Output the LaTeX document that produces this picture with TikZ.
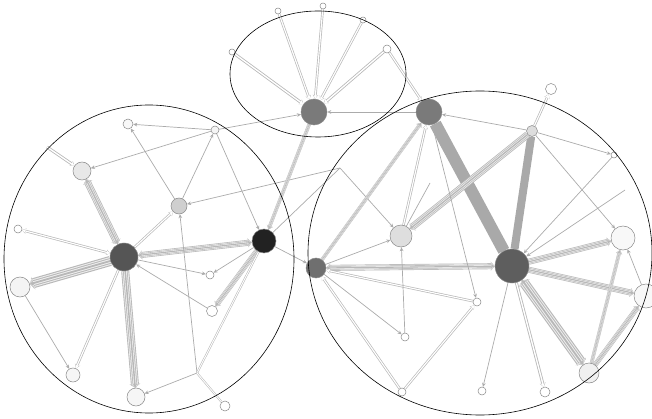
\documentclass[tikz,border=0pt]{standalone}
\usetikzlibrary{arrows.meta}
\definecolor{edgec}{HTML}{ABABAB}
\definecolor{bundc}{HTML}{B8B8B8}
\definecolor{stripc}{HTML}{EEEEEE}
\definecolor{solidc}{HTML}{A9A9A9}
\definecolor{nodeb}{HTML}{888888}
\pgfdeclarelayer{bg}\pgfsetlayers{bg,main}
\begin{document}
\begin{tikzpicture}[x=1pt,y=-1pt,
  >={Stealth[length=4pt,width=3pt 1]},
  nd/.style={circle,draw=nodeb,line width=0.5pt,inner sep=0pt,minimum size=#1},
  e/.style={draw=edgec,line width=0.7pt},
  dbl/.style={draw=bundc,line width=#1,
    postaction={draw=white,line width=0.45*#1}},
  bund/.style={draw=bundc,line width=#1,
    postaction={draw=stripc,line width=0.78*#1},
    postaction={draw=bundc,line width=0.58*#1},
    postaction={draw=stripc,line width=0.38*#1},
    postaction={draw=bundc,line width=0.18*#1}},
  solid bund/.style={draw=solidc,line width=#1},
  grp/.style={draw=black,line width=0.6pt}]
\useasboundingbox (0,0) rectangle (652,419);
% nodes
\node[nd=28pt,fill={rgb,255:red,85;green,85;blue,85}] (A) at (124,257) {};
\node[nd=18pt,fill={rgb,255:red,232;green,232;blue,232}] (B) at (82,171) {};
\node[nd=10pt,fill={rgb,255:red,248;green,248;blue,248}] (C) at (128,124) {};
\node[nd=8pt,fill={rgb,255:red,244;green,244;blue,244}] (D) at (215,130) {};
\node[nd=16pt,fill={rgb,255:red,207;green,207;blue,207}] (E) at (179,206) {};
\node[nd=24pt,fill={rgb,255:red,34;green,34;blue,34}] (F) at (264,241) {};
\node[nd=8pt,fill=white] (G) at (18,229) {};
\node[nd=20pt,fill={rgb,255:red,244;green,244;blue,244}] (H) at (20,287) {};
\node[nd=8pt,fill=white] (I) at (210,275) {};
\node[nd=11pt,fill=white] (J) at (212,311) {};
\node[nd=14pt,fill={rgb,255:red,246;green,246;blue,246}] (K) at (73,375) {};
\node[nd=18pt,fill={rgb,255:red,246;green,246;blue,246}] (L) at (136,397) {};
\node[nd=10pt,fill=white] (M) at (225,406) {};
\coordinate (j0) at (47,147);
\coordinate (j1) at (197,373);
\coordinate (j2) at (340,168);
\coordinate (j3) at (430,183);
\coordinate (j4) at (625,190);
\node[nd=26pt,fill={rgb,255:red,122;green,122;blue,122}] (N) at (314,112) {};
\node[nd=6pt,fill=white] (n1) at (232,52) {};
\node[nd=6pt,fill=white] (n2) at (278,11) {};
\node[nd=6pt,fill=white] (n3) at (323,6) {};
\node[nd=6pt,fill=white] (n4) at (363,20) {};
\node[nd=8pt,fill=white] (n5) at (387,49) {};
\node[nd=26pt,fill={rgb,255:red,122;green,122;blue,122}] (O) at (429,112) {};
\node[nd=11pt,fill={rgb,255:red,221;green,221;blue,221}] (P) at (532,131) {};
\node[nd=11pt,fill=white] (Q) at (551,89) {};
\node[nd=6pt,fill=white] (R) at (614,155) {};
\node[nd=22pt,fill={rgb,255:red,222;green,222;blue,222}] (S) at (401,236) {};
\node[nd=34pt,fill={rgb,255:red,94;green,94;blue,94}] (T) at (512,266) {};
\node[nd=20pt,fill={rgb,255:red,111;green,111;blue,111}] (U) at (316,268) {};
\node[nd=24pt,fill={rgb,255:red,248;green,248;blue,248}] (V) at (623,238) {};
\node[nd=24pt,fill={rgb,255:red,248;green,248;blue,248}] (W) at (646,296) {};
\node[nd=8pt,fill=white] (X) at (477,302) {};
\node[nd=8pt,fill=white] (Y) at (405,337) {};
\node[nd=8pt,fill=white] (Z) at (402,392) {};
\node[nd=8pt,fill=white] (AA) at (482,391) {};
\node[nd=10pt,fill=white] (AB) at (545,392) {};
\node[nd=20pt,fill={rgb,255:red,240;green,240;blue,240}] (AC) at (589,373) {};
\begin{pgfonlayer}{bg}
% left cluster
\draw[bund=7pt,<->] (A) -- (B);
\draw[dbl=3pt,->] (j0) -- (B);
\draw[e,->] (D) -- (C);
\draw[e,->] (D) -- (B);
\draw[e,->] (D) -- (N);
\draw[e,->] (E) -- (D);
\draw[e,->] (E) -- (C);
\draw[e,->] (D) -- (F);
\draw[dbl=2.5pt,->] (A) -- (E);
\draw[bund=6pt,<->] (A) -- (F);
\draw[dbl=2.5pt,<->] (A) -- (G);
\draw[bund=10pt,->] (A) -- (H);
\draw[e,->] (A) -- (I);
\draw[e,->] (J) -- (A);
\draw[e,->] (H) -- (K);
\draw[dbl=2.5pt,->] (A) -- (K);
\draw[bund=8pt,->] (A) -- (L);
\draw[bund=5pt,->] (F) -- (J);
\draw[e,->] (F) -- (I);
\draw[e,->] (j1) -- (E);
\draw[e,->] (j1) -- (L);
\draw[dbl=2pt] (j1) -- (F);
\draw[dbl=2pt] (j1) -- (M);
\draw[e,->] (j2) -- (E);
\draw[e,->] (j2) -- (S);
\draw[e] (F) -- (j2);
\draw[e,->] (F) -- (U);
% top cluster
\draw[dbl=3pt,->] (n1) -- (N);
\draw[dbl=2.5pt,->] (n2) -- (N);
\draw[dbl=2.5pt,->] (n3) -- (N);
\draw[dbl=2.5pt,->] (n4) -- (N);
\draw[dbl=3pt,->] (n5) -- (N);
\draw[bund=3.5pt,->] (N) -- (F);
\draw[e,->] (O) -- (N);
\draw[dbl=2.5pt,->] (n5) -- (O);
% right cluster
\draw[solid bund=12pt] (O) -- (T);
\draw[solid bund=8pt] (P) -- (T);
\draw[bund=7pt,->] (P) -- (S);
\draw[e,->] (P) -- (O);
\draw[dbl=2.5pt,->] (P) -- (Q);
\draw[e,->] (P) -- (R);
\draw[e,->] (P) -- (V);
\draw[e,->] (R) -- (T);
\draw[e,->] (j4) -- (T);
\draw[dbl=2.5pt,->] (S) -- (O);
\draw[bund=3.5pt,->] (U) -- (O);
\draw[e] (S) -- (j3);
\draw[e,->] (U) -- (S);
\draw[bund=6pt,<->] (U) -- (T);
\draw[dbl=2.5pt,->] (X) -- (U);
\draw[e,->] (O) -- (X);
\draw[e,->] (Y) -- (S);
\draw[e,->] (U) -- (Y);
\draw[dbl=2.5pt,->] (Z) -- (U);
\draw[dbl=2.5pt,->] (Z) -- (X);
\draw[e,->] (T) -- (AA);
\draw[dbl=3pt,->] (T) -- (AB);
\draw[bund=10pt,<->] (T) -- (AC);
\draw[bund=6pt,->] (T) -- (V);
\draw[bund=6pt,->] (T) -- (W);
\draw[bund=3.5pt,->] (AC) -- (V);
\draw[bund=5pt,->] (AC) -- (W);
\draw[e,->] (W) -- (V);
\end{pgfonlayer}
% groups
\draw[grp] (149,259) ellipse [x radius=145, y radius=154];
\draw[grp] (318,74) ellipse [x radius=88, y radius=63];
\draw[grp] (480,253) ellipse [x radius=172, y radius=162];
\end{tikzpicture}
\end{document}
